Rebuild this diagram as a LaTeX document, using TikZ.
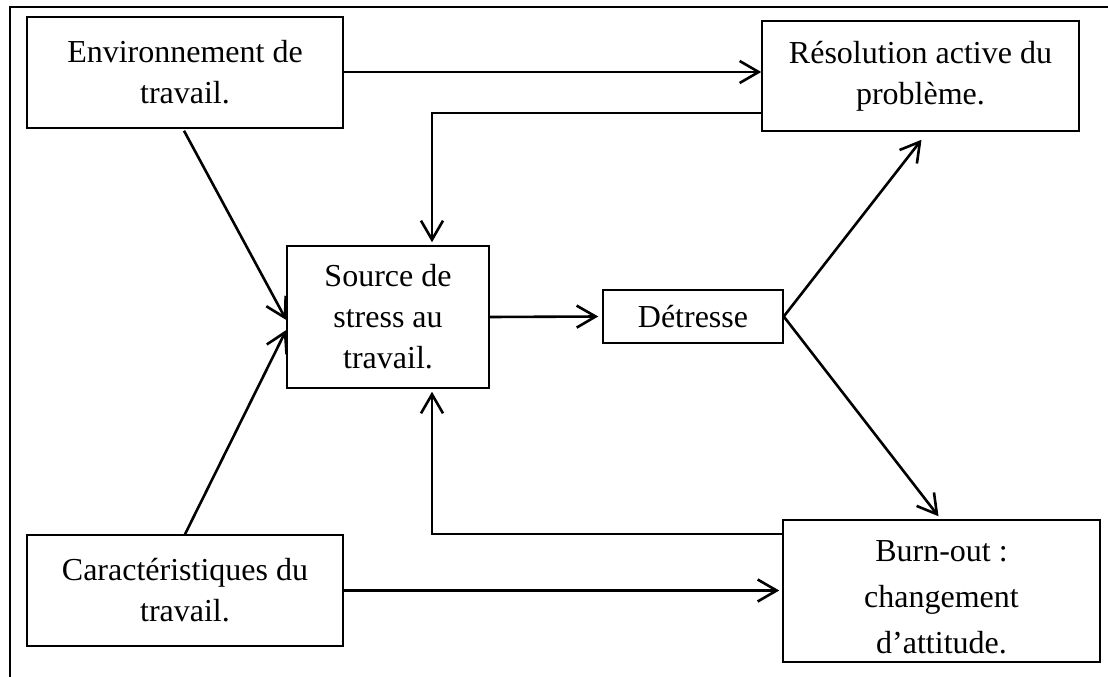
\documentclass[tikz,border=0pt]{standalone}
\usepackage{fontspec}
\setmainfont{Liberation Serif}
\usetikzlibrary{arrows.meta,calc}
\begin{document}
\begin{tikzpicture}[x=1pt,y=-1pt,
  box/.style={draw,line width=1.5pt,align=center,inner sep=0pt,
    font=\fontsize{32}{41}\selectfont},
  txt/.style={align=center,inner sep=0pt,font=\fontsize{32}{46}\selectfont},
  arr/.style={line width=2.6pt,-{Straight Barb[length=19pt,width=22pt,line width=2.6pt]}},
  frameline/.style={line width=2.2pt}]
\useasboundingbox (0,0) rectangle (1108,677);
% outer frame (top and left edges)
\draw[frameline] (10,677) -- (10,7) -- (1108,7);
% boxes
\node[box,minimum width=316pt,minimum height=111pt] (env) at (185,72.5) {Environnement de\\travail.};
\node[box,minimum width=317pt,minimum height=110pt] (res) at (920.5,76) {Résolution active du\\problème.};
\node[box,minimum width=202pt,minimum height=142pt] (src) at (388,317) {Source de\\stress au\\travail.};
\node[box,minimum width=180pt,minimum height=53pt] (det) at (693,316.5) {Détresse};
\node[box,minimum width=316pt,minimum height=111pt] (car) at (185,590.5) {Caractéristiques du\\travail.};
\node[box,minimum width=317pt,minimum height=142pt] (burn) at (941.5,591) {};
\node[txt] (burntxt) at ($(burn.center)+(0,6)$) {Burn-out :\\changement\\d’attitude.};
% bend points of the feedback loops
\coordinate (k1) at (432,113);
\coordinate (k2) at (432,534);
% connectors
\draw[arr] ($(env.east)+(0,-0.5)$) -- ($(env.east -| res.west)+(0,-0.5)$);
\draw[arr] (k1 -| res.west) -- (k1) -- ($(k1 |- src.north)+(0,-3)$);
\draw[arr] ($(env.south)+(-1,2)$) -- ($(src.west)+(0,3)$);
\draw[arr] (car.north) -- ($(src.west)+(0,13)$);
\draw[arr] (src.east) -- ($(det.west)+(-4,0)$);
\draw[arr] (det.east) -- ($(res.south)+(1,8)$);
\draw[arr] (det.east) -- ($(burn.north)+(-3,-3)$);
\draw[arr] (k2 -| burn.west) -- (k2) -- ($(k2 |- src.south)+(0,3)$);
\draw[arr] (car.east) -- ($(car.east -| burn.west)+(-3,0)$);
\end{tikzpicture}
\end{document}
